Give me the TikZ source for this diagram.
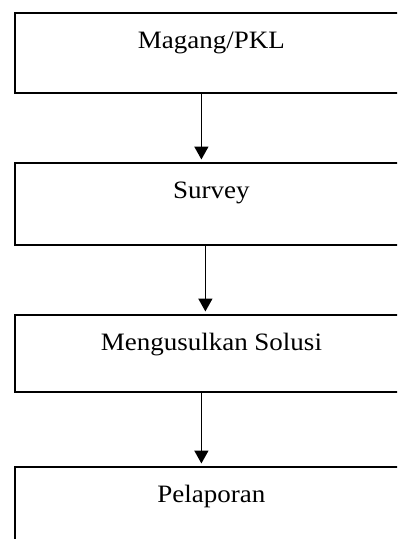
\documentclass[tikz,border=0pt]{standalone}
\usepackage{fontspec}
\setmainfont{Liberation Serif}[FakeStretch=1.08]
\usepackage{tikz}
\usetikzlibrary{arrows.meta, positioning, calc}

\tikzset{
  stepbox/.style={draw, line width=1.8pt, rectangle, anchor=north west,
    minimum width=393pt, inner xsep=0pt, inner ysep=0pt,
    text height=35.5pt, text depth=44.5pt, align=center,
    font=\fontsize{25}{30}\selectfont},
  flowarrow/.style={-{Triangle[width=14pt, length=13pt]}, line width=1.6pt, shorten >=2.5pt}
}

\begin{document}
\begin{tikzpicture}[x=1pt, y=1pt]
  \path[use as bounding box, clip] (0,0) rectangle (397,-539);

  % The steps
  \node[stepbox] (magang) at (14,-12) {Magang/PKL};
  \node[stepbox, text depth=46.5pt] (survey) at (14,-162) {Survey};
  \node[stepbox, text depth=41.5pt] (solusi) at (14,-314) {Mengusulkan Solusi};
  \node[stepbox] (lapor) at (14,-466) {Pelaporan};

  % Arrows between
  \draw[flowarrow] ([xshift=-10pt]magang.south) -- ([xshift=-10pt]survey.north);
  \draw[flowarrow] ([xshift=-6pt]survey.south) -- ([xshift=-6pt]solusi.north);
  \draw[flowarrow] ([xshift=-10pt]solusi.south) -- ([xshift=-10pt]lapor.north);
\end{tikzpicture}
\end{document}
